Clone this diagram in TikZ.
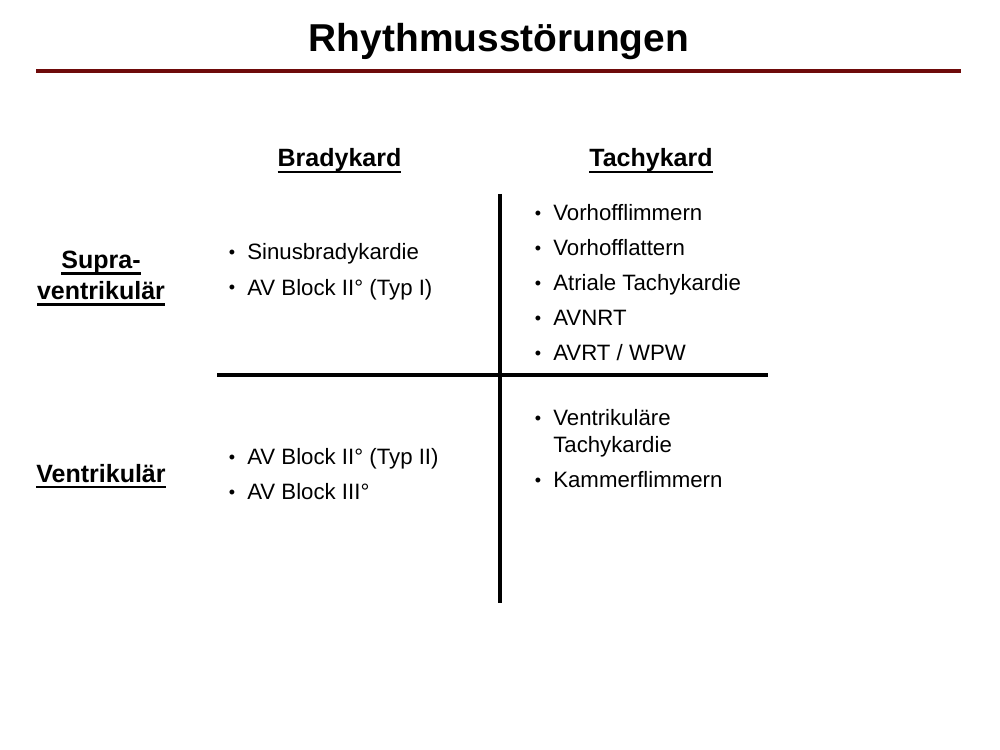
\documentclass[tikz,border=0pt]{standalone}
\usepackage{fontspec}
\setmainfont{Liberation Sans}
\definecolor{rulered}{RGB}{110,10,10}
% underlined heading and bullet entry
\newcommand{\ulhead}[1]{\setbox0\hbox{#1}\rlap{\rule[-4.4pt]{\wd0}{1.6pt}}\box0}
\newcommand{\bulletitem}[1]{\makebox[13.7pt][l]{\hspace{0.5pt}\raisebox{1.0pt}{\fontsize{13}{13}\selectfont\textbullet}}#1}
\begin{document}
\begin{tikzpicture}[x=0.72pt,y=-0.72pt]
  \tikzstyle{title}=[font=\fontsize{28}{34}\selectfont\bfseries, anchor=base, inner sep=0pt]
  \tikzstyle{head}=[font=\fontsize{18}{22}\selectfont\bfseries, anchor=base, inner sep=0pt]
  \tikzstyle{listitem}=[font=\fontsize{16}{19}\selectfont, anchor=base west, inner sep=0pt]
  \tikzstyle{axis}=[line width=2.2pt]
  \useasboundingbox (0,0) rectangle (1000,750);
  \node[title] (title) at (499,52) {Rhythmusstörungen};
  \draw[rulered, line width=2.2pt] (36,71) -- (961,71);
  % column and row headings
  \node[head] (brady) at (339.5,167) {\ulhead{Bradykard}};
  \node[head] (tachy) at (651,167) {\ulhead{Tachykard}};
  \node[head] (supra1) at (101,268.5) {\ulhead{Supra-}};
  \node[head] (supra2) at (101,299.5) {\ulhead{ventrikulär}};
  \node[head] (ventr) at (101,482) {\ulhead{Ventrikulär}};
  % axes
  \draw[axis] (500,194) -- (500,603);
  \draw[axis] (217,375) -- (768,375);
  % lists
  \foreach \t [count=\i] in {Sinusbradykardie,AV Block II° (Typ I)}
    \node[listitem] (suprabrady\i) at (228,{225+35*\i}) {\bulletitem{\t}};
  \foreach \t [count=\i] in {Vorhofflimmern,Vorhofflattern,Atriale Tachykardie,AVNRT,AVRT / WPW}
    \node[listitem] (supratachy\i) at (534,{185.5+35*\i}) {\bulletitem{\t}};
  \foreach \t [count=\i] in {AV Block II° (Typ II),AV Block III°}
    \node[listitem] (ventrbrady\i) at (228,{429.5+35*\i}) {\bulletitem{\t}};
  \node[listitem] (ventrtachy1) at (534,425.5) {\bulletitem{Ventrikuläre}};
  \node[listitem] (ventrtachy1b) at (553,452.5) {Tachykardie};
  \node[listitem] (ventrtachy2) at (534,487.5) {\bulletitem{Kammerflimmern}};
\end{tikzpicture}
\end{document}
